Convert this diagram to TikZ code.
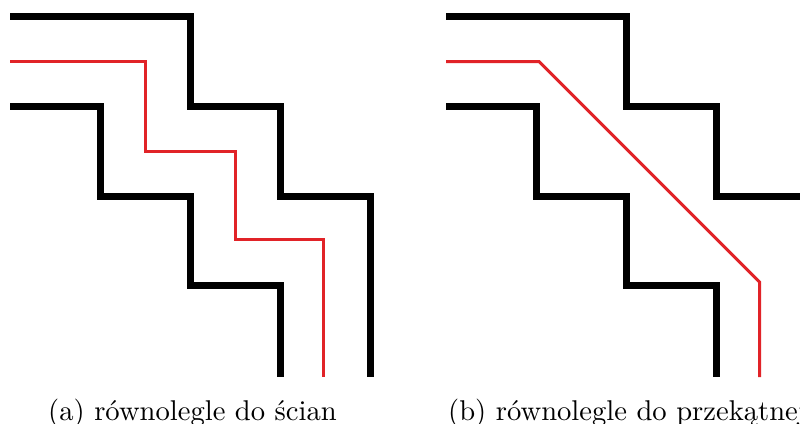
\documentclass[tikz,border=0pt]{standalone}
\definecolor{redline}{RGB}{225,35,40}
\tikzset{
  wall/.style={line width=7pt,black,line join=miter,line cap=butt},
  route/.style={line width=3pt,redline,line join=miter,line cap=butt},
  captext/.style={inner sep=0pt,anchor=base west}
}
\begin{document}
\begin{tikzpicture}[x=1pt,y=-1pt]
\useasboundingbox (0,0) rectangle (800,423);
\clip (0,0) rectangle (800,423);
% left panel
\draw[wall] (10,16.7) -- (190,16.7) -- (190,106.3) -- (280,106.3) -- (280,196) -- (370,196) -- (370,377);
\draw[wall] (10,106.3) -- (100,106.3) -- (100,196) -- (190,196) -- (190,285.7) -- (280,285.7) -- (280,377);
\draw[route] (10,61.5) -- (145,61.5) -- (145,151.3) -- (235,151.3) -- (235,239) -- (323.5,239) -- (323.5,377);
\node[captext] (capa) at (48,420) {\scalebox{2.86}{(a) równolegle do ścian}};
% right panel
\begin{scope}[xshift=436pt]
\draw[wall] (10,16.7) -- (190,16.7) -- (190,106.3) -- (280,106.3) -- (280,196) -- (370,196) -- (370,377);
\draw[wall] (10,106.3) -- (100,106.3) -- (100,196) -- (190,196) -- (190,285.7) -- (280,285.7) -- (280,377);
\draw[route] (10,61.5) -- (103,61.5) -- (323.5,282) -- (323.5,377);
\end{scope}
\node[captext] (capb) at (448,420) {\scalebox{2.86}{(b) równolegle do przekątnej}};
\end{tikzpicture}
\end{document}
